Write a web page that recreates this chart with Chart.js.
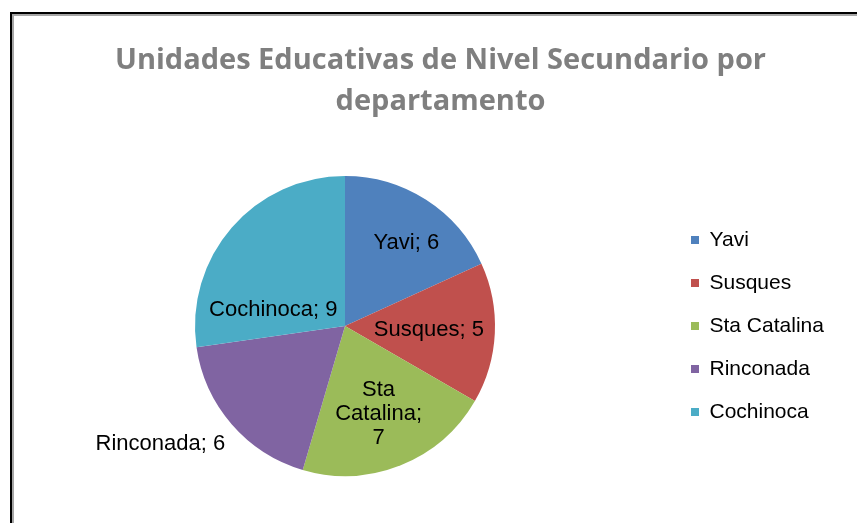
<!DOCTYPE html>
<html>
<head>
<meta charset="utf-8">
<script src="https://cdn.jsdelivr.net/npm/chart.js@4"></script>
<style>
    html, body { margin: 0; padding: 0; background: #fff; }
    #wrap { position: relative; width: 857px; height: 523px; overflow: hidden; }
    canvas { position: absolute; left: 0; top: 0; }
    .edge { position: absolute; }
</style>
</head>
<body>
<div id="wrap">
    <canvas id="pie-chart" width="857" height="523"></canvas>
    <div class="edge" style="left:10px;top:12px;width:847px;height:2px;background:#000"></div>
    <div class="edge" style="left:10px;top:12px;width:2px;height:511px;background:#000"></div>
    <div class="edge" style="left:12px;top:14px;width:845px;height:2px;background:#a6a6a6"></div>
    <div class="edge" style="left:12px;top:14px;width:2px;height:509px;background:#a6a6a6"></div>
</div>
<script>
const titleLines = ["Unidades Educativas de Nivel Secundario por", "departamento"]
const departments = ["Yavi", "Susques", "Sta Catalina", "Rinconada", "Cochinoca"]
const schools = [6, 5, 7, 6, 9]
const sliceColors = ["#4f81bd", "#c0504d", "#9bbb59", "#8064a2", "#4bacc6"]

// where each data label sits: fraction of the radius, turn (deg) off the slice middle
const labelSpots = [
    { r: 0.69, turn: 3.6 },
    { r: 0.56, turn: 0 },
    { r: 0.63, turn: 1, wrap: true },
    { r: 1.46, turn: 8.4 },
    { r: 0.49, turn: -28.4 },
]

Chart.defaults.font.family = "'Liberation Sans', Arial, sans-serif"

// Excel style labels "name; value"
const sliceLabels = {
    id: "sliceLabels",
    afterDatasetsDraw(chart) {
        const ctx = chart.ctx
        const meta = chart.getDatasetMeta(0)
        ctx.save()
        ctx.font = "22px 'Liberation Sans', Arial, sans-serif"
        ctx.fillStyle = "#000"
        ctx.textAlign = "center"
        ctx.textBaseline = "middle"
        meta.data.forEach((arc, i) => {
            const p = arc.getProps(["x", "y", "startAngle", "endAngle", "outerRadius"], true)
            const spot = labelSpots[i]
            const a = (p.startAngle + p.endAngle) / 2 + (spot.turn * Math.PI) / 180
            const x = p.x + Math.cos(a) * p.outerRadius * spot.r
            const y = p.y + Math.sin(a) * p.outerRadius * spot.r
            const text = `${departments[i]}; ${schools[i]}`
            const lines = spot.wrap ? text.split(" ") : [text]
            lines.forEach((line, k) => {
                ctx.fillText(line, x, y + (k - (lines.length - 1) / 2) * 24)
            })
        })
        ctx.restore()
    },
}

// legend box a bit wider than its text so the pie sits where excel put it
const legendWidth = {
    id: "legendWidth",
    beforeLayout(chart) {
        const lg = chart.legend
        if (lg && !lg._widened) {
            const fit = lg.fit
            lg.fit = function () {
                fit.call(this)
                this.width = Math.max(this.width, 191)
            }
            lg._widened = true
        }
    },
}

const canvas = document.getElementById("pie-chart")
const myChart = new Chart(canvas, {
    type: "pie",
    data: {
        labels: departments,
        datasets: [
            {
                data: schools,
                backgroundColor: sliceColors,
                borderWidth: 0,
                hoverOffset: 0,
                offset: 0,
            },
        ],
    },
    options: {
        responsive: false,
        animation: false,
        devicePixelRatio: 1,
        layout: {
            padding: { left: 21, right: -3, top: 15, bottom: 47 },
        },
        plugins: {
            title: {
                display: true,
                text: titleLines,
                color: "#7f7f7f",
                font: { family: "'Open Sans'", weight: "bold", size: 29, lineHeight: "41px" },
                padding: { top: 25, bottom: 54 },
            },
            legend: {
                position: "right",
                fullSize: false,
                labels: {
                    color: "#000",
                    boxWidth: 8,
                    boxHeight: 8,
                    padding: 22,
                    font: { size: 21 },
                },
            },
            tooltip: { enabled: false },
        },
    },
    plugins: [sliceLabels, legendWidth],
})
</script>
</body>
</html>
